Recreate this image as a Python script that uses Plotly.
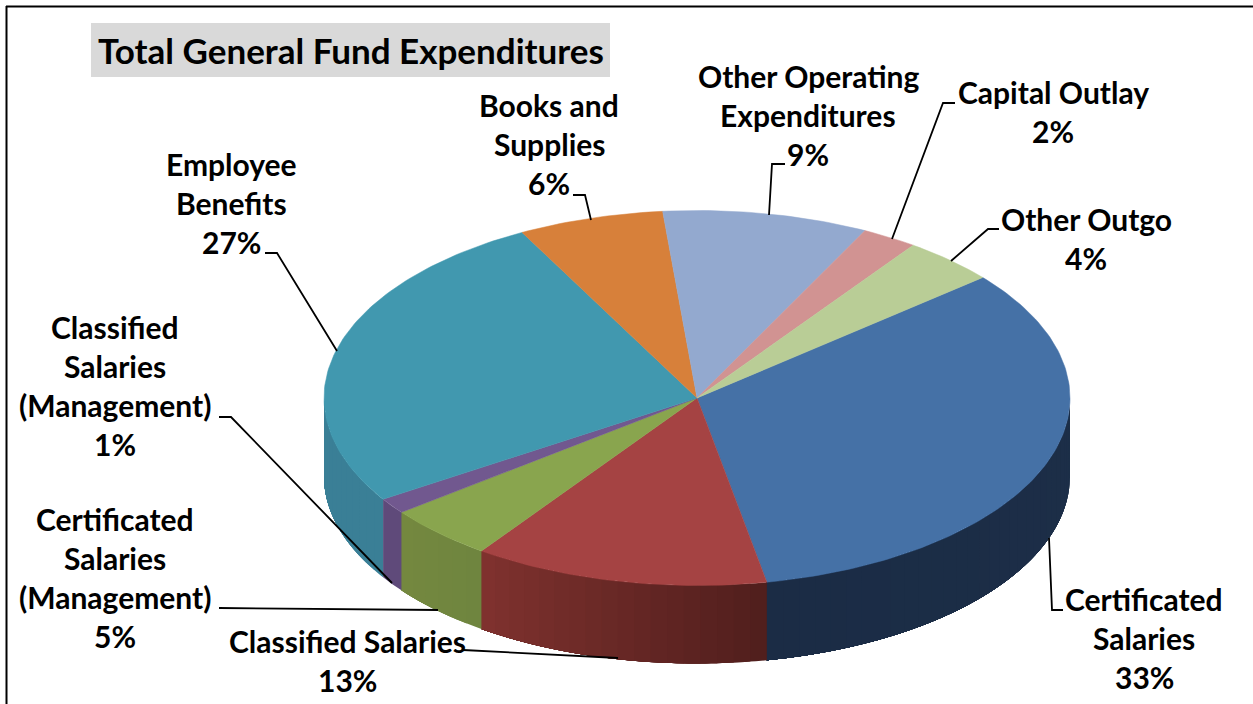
import numpy as np
import plotly.graph_objects as go

# ---- data ----
categories = ["Certificated Salaries", "Classified Salaries", "Certificated Salaries (Management)",
              "Classified Salaries (Management)", "Employee Benefits", "Books and Supplies",
              "Other Operating Expenditures", "Capital Outlay", "Other Outgo"]
# slice sizes (labels show the rounded figures)
shares = [33.1, 12.8, 4.75, 1.36, 26.3, 6.3, 8.9, 2.4, 4.05]
top_colors = ["#4571A6", "#A54343", "#89A54E", "#71588F", "#4198AF", "#D7803A", "#93A9CF", "#D19392", "#B9CD96"]
side_start = ["#1B2C45", "#80322F", "#74883F", "#5F4A7A", "#3A7F96", "#D7803A", "#93A9CF", "#D19392", "#B9CD96"]
side_end = ["#1C2E48", "#501E1C", "#6F853F", "#5F4A7A", "#3A7F96", "#D7803A", "#93A9CF", "#D19392", "#B9CD96"]

title_text = "Total General Fund Expenditures"
label_lines = [
    (["Certificated", "Salaries", "33%"], 1144, 599),
    (["Classified Salaries", "13%"], 347, 641),
    (["Certificated", "Salaries", "(Management)", "5%"], 115, 519),
    (["Classified", "Salaries", "(Management)", "1%"], 115, 327),
    (["Employee", "Benefits", "27%"], 231, 164),
    (["Books and", "Supplies", "6%"], 549, 105),
    (["Other Operating", "Expenditures", "9%"], 808, 76),
    (["Capital Outlay", "2%"], 1053, 92),
    (["Other Outgo", "4%"], 1086, 219),
]
leaders = [
    [(1063, 610), (1052, 610), (1049, 538)],
    [(463, 650), (618, 658)],
    [(219, 608), (438, 610)],
    [(219, 417), (231, 417), (392, 583)],
    [(265, 253), (277, 253), (337, 351)],
    [(573, 195), (585, 195), (591, 220)],
    [(785, 164), (772, 164), (769, 215)],
    [(955, 103), (943, 103), (892, 239)],
    [(999, 229), (988, 229), (951, 261)],
]

# ---- geometry of the projected pie ----
CX, CY, RX, RY, DEPTH = 697.0, 398.0, 373.0, 187.5, 78.0
START_DEG = 50.0   # clockwise from 12 o'clock
LABEL_SIZE = 30
TITLE_SIZE = 35
LINE_H = 39
FONT = "Lato"


def hex_rgb(h):
    return np.array([int(h[i:i + 2], 16) for i in (1, 3, 5)], dtype=float)


def mix(a, b, t):
    c = hex_rgb(a) * (1 - t) + hex_rgb(b) * t
    return "rgb(%d,%d,%d)" % tuple(c.round())


def rim(theta_deg, drop=0.0):
    t = np.radians(theta_deg)
    return CX + RX * np.sin(t), CY - RY * np.cos(t) + drop


fig = go.Figure()
sizes = np.array(shares) / sum(shares) * 360
cum = START_DEG + np.concatenate([[0], np.cumsum(sizes)])

# side walls (only the front half, theta from 90 to 270 deg clockwise from top)
for i in range(len(shares)):
    a0, b0 = cum[i] % 360, cum[i] % 360 + sizes[i]
    lo, hi = max(a0, 90), min(b0, 270)
    if hi <= lo:
        lo, hi = max(a0 - 360, 90), min(b0 - 360, 270)
        if hi <= lo:
            continue
    n = max(1, int((hi - lo) / 2.5))
    edges = np.linspace(lo, hi, n + 1)
    # each strip runs on to the end of the slice and the next one paints over it,
    # so that neighbouring strips leave no seam
    for k in range(n):
        th = np.linspace(edges[k], hi, max(3, (n - k) * 3))
        x1, y1 = rim(th)
        x2, y2 = rim(th[::-1], DEPTH)
        col = mix(side_start[i], side_end[i], 1 - (k + 0.5) / n)
        fig.add_trace(go.Scatter(
            x=np.r_[x1, x2, x1[0]], y=np.r_[y1, y2, y1[0]], mode="none", fill="toself",
            fillcolor=col, hoverinfo="skip", showlegend=False))

# top faces
for i, name in enumerate(categories):
    th = np.linspace(cum[i], cum[i + 1], max(4, int(sizes[i])))
    x, y = rim(th)
    fig.add_trace(go.Scatter(
        x=np.r_[CX, x, CX], y=np.r_[CY, y, CY], mode="lines", fill="toself",
        fillcolor=top_colors[i], line=dict(color=top_colors[i], width=0.5),
        name=name, hoverinfo="name", showlegend=False))

shapes = [
    dict(type="rect", x0=91, x1=610, y0=23, y1=77, fillcolor="#D9D9D9", line_width=0, layer="below"),
    dict(type="line", x0=6.5, x1=6.5, y0=6, y1=704, line=dict(color="black", width=2)),
    dict(type="line", x0=6, x1=1253, y0=6.5, y1=6.5, line=dict(color="black", width=2)),
]
for pts in leaders:
    path = "M " + " L ".join(f"{x} {y}" for x, y in pts)
    shapes.append(dict(type="path", path=path, line=dict(color="black", width=1.8)))

annotations = [dict(x=351, y=50, text=f"<b>{title_text}</b>", showarrow=False,
                    font=dict(family=FONT, size=TITLE_SIZE, color="black"))]
for lines, lx, ly in label_lines:
    for j, line in enumerate(lines):
        annotations.append(dict(x=lx, y=ly + j * LINE_H, text=f"<b>{line}</b>", showarrow=False,
                                font=dict(family=FONT, size=LABEL_SIZE, color="black")))

fig.update_layout(
    width=1253, height=704, margin=dict(l=0, r=0, t=0, b=0), autosize=False,
    paper_bgcolor="white", plot_bgcolor="white", showlegend=False,
    xaxis=dict(range=[0, 1253], visible=False, fixedrange=True),
    yaxis=dict(range=[704, 0], visible=False, fixedrange=True),
    shapes=shapes, annotations=annotations,
)
fig.write_html("out.html", post_script="document.body.style.margin='0';document.body.style.overflow='hidden';",
               config=dict(displayModeBar=False))
